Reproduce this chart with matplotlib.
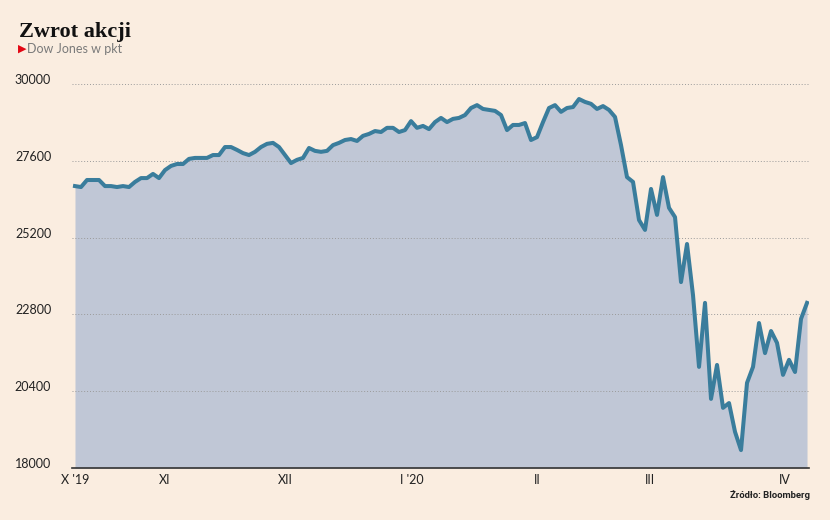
import matplotlib
matplotlib.use("Agg")
import matplotlib.pyplot as plt

# Dow Jones daily close, Oct 2019 - Apr 2020
dow = [
    26810, 26780, 27000, 27000, 27000, 26810, 26810, 26780, 26810, 26780,
    26940, 27060, 27060, 27190, 27060, 27310, 27440, 27500, 27500, 27660,
    27690, 27690, 27690, 27780, 27780, 28030, 28030, 27940, 27840, 27780,
    27880, 28030, 28130, 28160, 28030, 27780, 27530, 27630, 27690, 28000,
    27910, 27880, 27910, 28090, 28160, 28250, 28280, 28220, 28380, 28440,
    28530, 28500, 28630, 28630, 28500, 28560, 28840, 28630, 28690, 28590,
    28810, 28940, 28810, 28910, 28940, 29030, 29250, 29340, 29220, 29190,
    29160, 29030, 28560, 28720, 28720, 28780, 28250, 28340, 28810, 29250,
    29340, 29130, 29250, 29280, 29530, 29440, 29380, 29220, 29310, 29190,
    28970, 28090, 27090, 26940, 25750, 25440, 26720, 25910, 27090, 26130,
    25840, 23810, 25000, 23400, 21160, 23160, 20160, 21220, 19880, 20030,
    19130, 18560, 20660, 21160, 22530, 21590, 22280, 21910, 20910, 21380,
    21000, 22660, 23160,
]

y_ticks = [18000, 20400, 22800, 25200, 27600, 30000]
month_labels = ["X '19", "XI", "XII", "I '20", "II", "III", "IV"]
month_pos = [0, 15, 35, 56.2, 77, 95.8, 118.3]

BG = "#FAEDE0"
FILL = "#C0C7D6"
LINE = "#3A7D9C"

fig = plt.figure(figsize=(8.3, 5.2), dpi=100, facecolor=BG)
ax = fig.add_axes([72 / 830, 1 - 468 / 520, (809 - 72) / 830, (468 - 84) / 520])
ax.set_facecolor(BG)

x = list(range(len(dow)))
ax.fill_between(x, dow, 18000, color=FILL, lw=0, zorder=1)
ax.plot(x, dow, color=LINE, lw=2.9, solid_joinstyle="round", zorder=3)

ax.set_xlim(-0.5, 122.33)
ax.set_ylim(18000, 30000)

ax.set_yticks(y_ticks)
ax.set_yticklabels([str(v) for v in y_ticks], fontsize=9, color="#222222",
                   family="Lato")
for lab in ax.get_yticklabels():
    lab.set_verticalalignment("baseline")
ax.tick_params(axis="y", length=0, pad=15)

ax.set_xticks(month_pos)
ax.set_xticklabels(month_labels, fontsize=9, color="#222222", family="Lato")
ax.tick_params(axis="x", length=0, pad=4)

ax.grid(axis="y", color="#9a9a9a", lw=0.7, ls=(0, (1, 2)), zorder=2)
for s in ["top", "right", "left"]:
    ax.spines[s].set_visible(False)
ax.spines["bottom"].set_color("#333333")
ax.spines["bottom"].set_linewidth(1.2)
ax.spines["bottom"].set_zorder(4)

# headings
fig.text(19 / 830, 1 - 37 / 520, "Zwrot akcji", fontsize=16, fontweight="bold",
         family="Liberation Serif", color="#111111", va="baseline")
fig.text(18 / 830, 1 - 48.5 / 520, "\u25B6", fontsize=8, color="#E30613",
         family="DejaVu Sans", va="center")
fig.text(27 / 830, 1 - 49 / 520, "Dow Jones w pkt", fontsize=9, color="#7a7a7a",
         family="Lato", va="center")
fig.text(810 / 830, 1 - 495 / 520, "Źródło: Bloomberg", fontsize=6.8,
         fontweight="bold", family="Roboto", color="#222222",
         ha="right", va="center")

fig.savefig("out.png", dpi=100, facecolor=BG)
